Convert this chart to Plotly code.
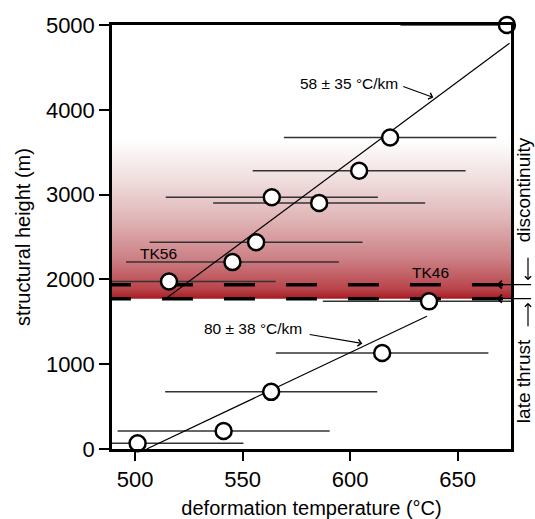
import plotly.graph_objects as go

# ---- data ----
temp_upper = [672.9, 618.6, 604.2, 563.6, 585.6, 556.3, 545.3, 515.8]
height_upper = [5000, 3674, 3282, 2968, 2902, 2439, 2204, 1976]
err_upper = [49.5, 49.4, 49.5, 49.3, 49.3, 49.5, 49.5, 49.6]

temp_lower = [636.7, 614.9, 563.3, 541.2, 501.2]
height_lower = [1741, 1133, 674, 212, 67]
err_lower = [49.4, 49.4, 49.3, 49.3, 49.2]

fit_upper_t = [514.7, 674.1]
fit_upper_h = [1780, 4785]
fit_lower_t = [505.4, 635.7]
fit_lower_h = [0, 1565]

discontinuity_levels = [1938, 1773]
gradient_top = 3650

x_range = [489.3, 674.8]
y_range = [0, 5000]
x_ticks = [500, 550, 600, 650]
y_ticks = [0, 1000, 2000, 3000, 4000, 5000]

FONT = "Liberation Sans, Arial, Helvetica, sans-serif"

fig = go.Figure()

# red gradient band (discontinuity zone)
fig.add_trace(go.Scatter(
    x=[x_range[0], x_range[1], x_range[1], x_range[0], x_range[0]],
    y=[discontinuity_levels[1], discontinuity_levels[1], gradient_top, gradient_top, discontinuity_levels[1]],
    mode="lines", line=dict(width=0), fill="toself",
    fillgradient=dict(type="vertical",
                      colorscale=[[0, "#a81a22"], [0.06, "#b8444a"], [0.25, "#cc8085"],
                                  [0.5, "#e0b5b7"], [0.75, "#f0dede"], [1, "#ffffff"]],
                      start=discontinuity_levels[1], stop=gradient_top),
    hoverinfo="skip", showlegend=False,
))

# dashed discontinuity lines (start slightly left of frame for dash phase)
for lvl in discontinuity_levels:
    fig.add_trace(go.Scatter(
        x=[483.7, x_range[1]], y=[lvl, lvl], mode="lines",
        line=dict(color="black", width=3.5, dash="31px,31px"),
        hoverinfo="skip", showlegend=False,
    ))

# error bars (clipped to plot area)
all_t = temp_upper + temp_lower
all_h = height_upper + height_lower
all_e = err_upper + err_lower
fig.add_trace(go.Scatter(
    x=all_t, y=all_h, mode="markers",
    marker=dict(size=1, color="rgba(0,0,0,0)"),
    error_x=dict(type="data", array=all_e, color="#333333", thickness=1.5, width=0),
    cliponaxis=True, hoverinfo="skip", showlegend=False,
))

# fit lines
fig.add_trace(go.Scatter(x=fit_upper_t, y=fit_upper_h, mode="lines",
                         line=dict(color="black", width=1.2), showlegend=False))
fig.add_trace(go.Scatter(x=fit_lower_t, y=fit_lower_h, mode="lines",
                         line=dict(color="black", width=1.2), showlegend=False))

# data points
fig.add_trace(go.Scatter(
    x=all_t, y=all_h, mode="markers",
    marker=dict(size=16, color="white", line=dict(color="black", width=2.5)),
    cliponaxis=False, showlegend=False,
))

annotations = [
    dict(x=599.5, y=4315, xref="x", yref="y", text="58 ± 35 °C/km", showarrow=False,
         font=dict(size=15.5, color="black")),
    dict(x=638.7, y=4145, ax=624.0, ay=4282, xref="x", yref="y", axref="x", ayref="y",
         text="", showarrow=True, arrowhead=4, arrowsize=1.2, arrowwidth=1.1, arrowcolor="black"),
    dict(x=554.9, y=1424, xref="x", yref="y", text="80 ± 38 °C/km", showarrow=False,
         font=dict(size=15.5, color="black")),
    dict(x=605.7, y=1244, ax=580.5, ay=1353, xref="x", yref="y", axref="x", ayref="y",
         text="", showarrow=True, arrowhead=4, arrowsize=1.2, arrowwidth=1.1, arrowcolor="black"),
    dict(x=511.0, y=2306, xref="x", yref="y", text="TK56", showarrow=False,
         font=dict(size=15.5, color="black")),
    dict(x=637.4, y=2082, xref="x", yref="y", text="TK46", showarrow=False,
         font=dict(size=15.5, color="black")),
    # right side labels
    dict(x=1, xref="paper", xanchor="center", xshift=12, y=800, yref="y", yanchor="middle",
         text="late thrust", textangle=-90, showarrow=False, borderpad=0,
         font=dict(size=19, color="black")),
    dict(x=1, xref="paper", xanchor="center", xshift=12, y=3050, yref="y", yanchor="middle",
         text="discontinuity", textangle=-90, showarrow=False, borderpad=0,
         font=dict(size=19, color="black")),
    dict(x=1, xref="paper", xshift=17, y=1725, yref="y", ax=0, ay=25, text="", showarrow=True,
         arrowhead=4, arrowsize=1, arrowwidth=1.2, arrowcolor="black"),
    dict(x=1, xref="paper", xshift=17, y=1990, yref="y", ax=0, ay=-24, text="", showarrow=True,
         arrowhead=4, arrowsize=1, arrowwidth=1.2, arrowcolor="black"),
]
for lvl in discontinuity_levels:
    annotations.append(dict(x=668.1, y=lvl, xref="x", yref="y", ax=36, ay=0, text="",
                            showarrow=True, arrowhead=4, arrowsize=1.2, arrowwidth=1.3,
                            arrowcolor="black"))

fig.update_layout(
    width=535, height=519,
    margin=dict(l=112, r=24, t=25, b=70, autoexpand=False),
    plot_bgcolor="white", paper_bgcolor="white",
    font=dict(family=FONT, color="black"),
    annotations=annotations,
    showlegend=False,
)
fig.update_xaxes(
    automargin=False,
    range=x_range, tickvals=x_ticks, ticks="outside", ticklen=9, tickwidth=1.5,
    tickcolor="black", showline=True, linewidth=2.5, linecolor="black", mirror=True,
    showgrid=False, zeroline=False, tickfont=dict(size=22, color="black"),
    title=dict(text="deformation temperature (°C)", font=dict(size=20, color="black"), standoff=12),
)
fig.update_yaxes(
    automargin=False,
    range=y_range, tickvals=y_ticks, ticks="outside", ticklen=10, tickwidth=1.5,
    tickcolor="black", showline=True, linewidth=2.5, linecolor="black", mirror=True,
    showgrid=False, zeroline=False, tickfont=dict(size=22, color="black"),
    title=dict(text="structural height (m)", font=dict(size=20, color="black"), standoff=10),
)

fig.write_html(
    "out.html",
    config={"displayModeBar": False},
    post_script="document.body.style.margin='0px';document.body.style.overflow='hidden';",
)
